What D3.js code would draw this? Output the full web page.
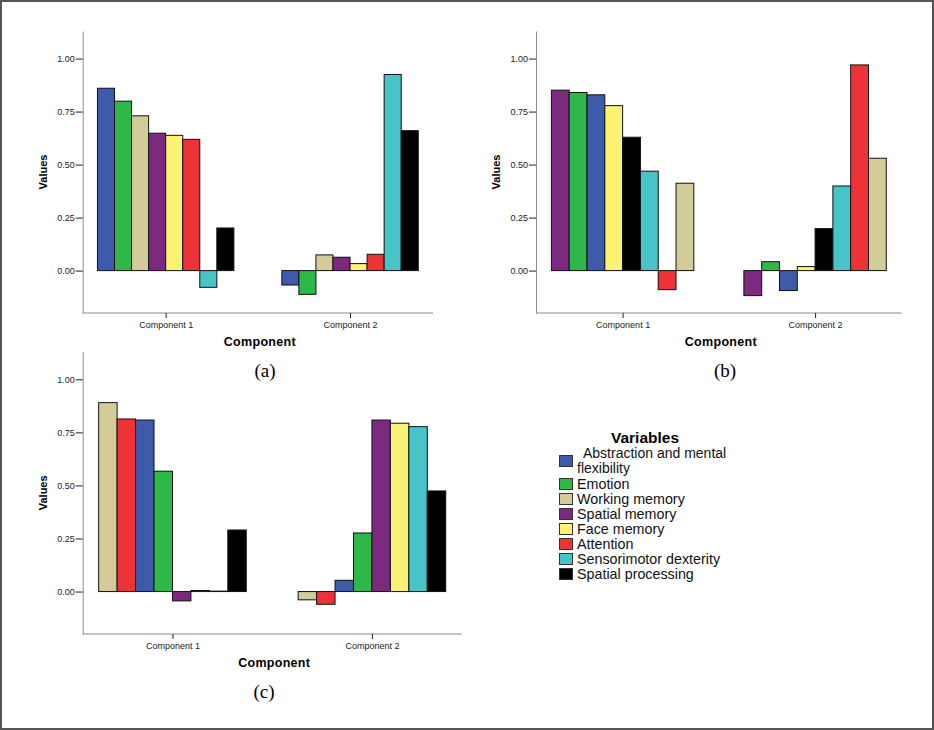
<!DOCTYPE html>
<html>
<head>
<meta charset="utf-8">
<script src="https://cdn.jsdelivr.net/npm/d3@7"></script>
<style>
  body { margin: 0; background: #fff; }
  svg { font-family: Arial, "Liberation Sans", sans-serif; }
</style>
</head>
<body>
<script>
// variables and their colours (legend order)
const variables = [
  "Abstraction and mental flexibility",
  "Emotion",
  "Working memory",
  "Spatial memory",
  "Face memory",
  "Attention",
  "Sensorimotor dexterity",
  "Spatial processing"
];
const colors = ["#3e5bab", "#2fb84a", "#d3cc98", "#7b2a7f", "#fcf374", "#ee3338", "#46c4c8", "#000000"];
const components = ["Component 1", "Component 2"];
const tickVals = [0, 0.25, 0.5, 0.75, 1];

// panel (a): bar order + loadings
const orderA = [0, 1, 2, 3, 4, 5, 6, 7];
const comp1A = [0.860, 0.799, 0.730, 0.648, 0.638, 0.619, -0.079, 0.201];
const comp2A = [-0.068, -0.112, 0.074, 0.063, 0.033, 0.077, 0.925, 0.660];

// panel (b)
const orderB = [3, 1, 0, 4, 7, 6, 5, 2];
const comp1B = [0.851, 0.840, 0.829, 0.778, 0.629, 0.469, -0.090, 0.412];
const comp2B = [-0.118, 0.042, -0.094, 0.019, 0.198, 0.399, 0.970, 0.530];

// panel (c)
const orderC = [2, 5, 0, 1, 3, 4, 6, 7];
const comp1C = [0.890, 0.813, 0.808, 0.567, -0.044, 0.005, 0.002, 0.290];
const comp2C = [-0.039, -0.060, 0.053, 0.276, 0.808, 0.793, 0.777, 0.474];

const width = 934, height = 730;

const svg = d3.select("body").append("svg")
  .attr("width", width)
  .attr("height", height);

svg.append("rect")
  .attr("x", 1).attr("y", 1)
  .attr("width", width - 2).attr("height", height - 2)
  .attr("fill", "#fff")
  .attr("stroke", "#555")
  .attr("stroke-width", 2);

function drawPanel(p) {
  const g = svg.append("g");
  const x = d3.scalePoint().domain(components).range([p.x0, p.x1]).padding(0.45);
  const gw = x.step() * 0.74;
  const xi = d3.scaleBand().domain(p.order.map(String)).range([-gw / 2, gw / 2]).padding(0);
  const y = d3.scaleLinear().domain([-0.2, 1.13]).range([p.bottom, p.top]);

  // bars
  const rows = [];
  [p.c1, p.c2].forEach((vals, ci) => {
    vals.forEach((v, i) => rows.push({ comp: components[ci], v: v, k: p.order[i] }));
  });
  g.selectAll("rect.bar")
    .data(rows)
    .enter()
    .append("rect")
    .attr("class", "bar")
    .attr("x", d => x(d.comp) + xi(String(d.k)))
    .attr("width", xi.bandwidth())
    .attr("y", d => y(Math.max(0, d.v)))
    .attr("height", d => Math.abs(y(d.v) - y(0)))
    .attr("fill", d => colors[d.k])
    .attr("stroke", "#111")
    .attr("stroke-width", 1);

  // y axis
  const ya = g.append("g")
    .attr("transform", `translate(${p.x0},0)`)
    .call(d3.axisLeft(y).tickValues(tickVals).tickFormat(d3.format(".2f")).tickSize(7).tickSizeOuter(0).tickPadding(1));
  ya.select(".domain").attr("stroke", "#8a8a8a");
  ya.selectAll(".tick line").attr("stroke", "#222");
  ya.selectAll(".tick text").attr("font-size", 9).attr("fill", "#222").style("font-family", "Arial, sans-serif");

  // x axis
  const xa = g.append("g")
    .attr("transform", `translate(0,${p.bottom})`)
    .call(d3.axisBottom(x).tickSize(5).tickSizeOuter(0).tickPadding(4));
  xa.select(".domain").attr("stroke", "#8a8a8a").attr("d", `M${p.x0},0H${p.x1}`);
  xa.selectAll(".tick line").attr("stroke", "#222");
  xa.selectAll(".tick text").attr("font-size", 9).attr("fill", "#222").style("font-family", "Arial, sans-serif");

  g.append("text")
    .attr("x", (p.x0 + p.x1) / 2 + 2)
    .attr("y", p.bottom + 33)
    .attr("text-anchor", "middle")
    .attr("font-size", 12.5)
    .attr("font-weight", "bold")
    .attr("letter-spacing", 0.3)
    .text("Component");

  g.append("text")
    .attr("transform", `translate(${p.x0 - 36},${(p.top + p.bottom) / 2}) rotate(-90)`)
    .attr("text-anchor", "middle")
    .attr("font-size", 11)
    .attr("font-weight", "bold")
    .text("Values");

  g.append("text")
    .attr("x", p.labelX)
    .attr("y", p.bottom + 64)
    .attr("text-anchor", "middle")
    .attr("font-size", 19)
    .style("font-family", "'Liberation Serif', 'Times New Roman', serif")
    .text(p.label);
}

drawPanel({ x0: 82.7, x1: 433, top: 31, bottom: 313, order: orderA, c1: comp1A, c2: comp2A, label: "(a)", labelX: 265 });
drawPanel({ x0: 536, x1: 901.7, top: 31, bottom: 313, order: orderB, c1: comp1B, c2: comp2B, label: "(b)", labelX: 725 });
drawPanel({ x0: 82.7, x1: 461.7, top: 351.7, bottom: 634, order: orderC, c1: comp1C, c2: comp2C, label: "(c)", labelX: 264 });

// legend
const legend = svg.append("g");
legend.append("text")
  .attr("x", 645).attr("y", 443)
  .attr("text-anchor", "middle")
  .attr("font-size", 15.5)
  .attr("font-weight", "bold")
  .text("Variables");

const rowY = [461, 484, 499, 514, 529, 544, 559, 574];
const items = legend.selectAll("g.item")
  .data(variables)
  .enter()
  .append("g")
  .attr("class", "item");

items.append("rect")
  .attr("x", 559.5)
  .attr("y", (d, i) => rowY[i] - 5.5)
  .attr("width", 13)
  .attr("height", 11)
  .attr("fill", (d, i) => colors[i])
  .attr("stroke", "#333")
  .attr("stroke-width", 1);

items.each(function (d, i) {
  const el = d3.select(this);
  if (i === 0) {
    el.append("text").attr("x", 583).attr("y", 458).attr("font-size", 14).attr("fill", "#111")
      .text("Abstraction and mental");
    el.append("text").attr("x", 577).attr("y", 473).attr("font-size", 14).attr("fill", "#111")
      .text("flexibility");
  } else {
    el.append("text").attr("x", 577).attr("y", rowY[i] + 5).attr("font-size", 14.3).attr("fill", "#111")
      .text(d);
  }
});
</script>
</body>
</html>
